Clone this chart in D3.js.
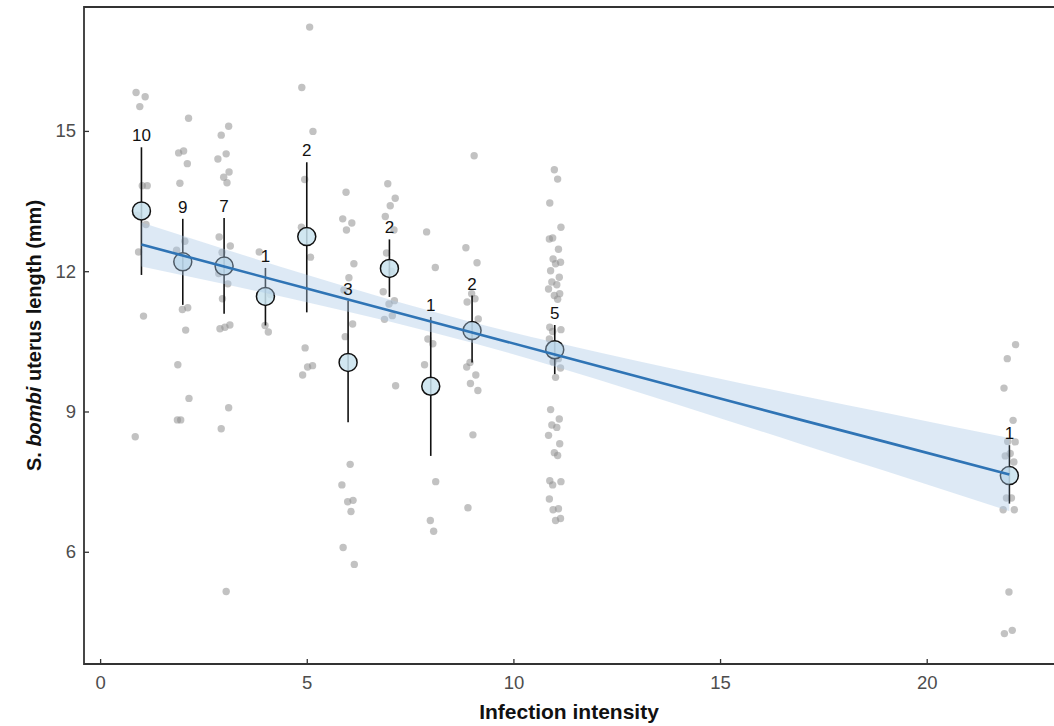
<!DOCTYPE html>
<html>
<head>
<meta charset="utf-8">
<script src="https://cdn.jsdelivr.net/npm/d3@7"></script>
<style>
  html, body { margin: 0; padding: 0; background: #fff; }
  svg { display: block; }
</style>
</head>
<body>
<svg id="chart" width="1054" height="726"></svg>
<script>
// ---------- data ----------
const intensity = [1, 2, 3, 4, 5, 6, 7, 8, 9, 11, 22];

// individual uterus lengths (grey jittered points), one array per intensity
const lengths = [
  [15.82, 15.73, 15.52, 13.83, 13.83, 13.2, 13.0, 12.41, 11.04, 8.46],
  [15.27, 14.57, 14.53, 14.3, 13.88, 12.64, 12.45, 11.22, 11.18, 10.74, 10.0, 9.28, 8.82, 8.82],
  [15.1, 14.91, 14.51, 14.4, 14.12, 14.01, 13.89, 12.73, 12.54, 12.4, 11.95, 11.73, 11.41, 10.85, 10.8, 10.77, 9.08, 8.63, 5.15],
  [12.41, 11.5, 10.84, 10.7],
  [17.22, 15.93, 14.99, 13.96, 12.94, 12.3, 10.36, 9.98, 9.95, 9.78],
  [13.69, 13.12, 13.03, 12.88, 12.16, 11.86, 11.6, 10.87, 10.6, 7.87, 7.43, 7.1, 7.07, 6.86, 6.09, 5.73],
  [13.87, 13.56, 13.4, 13.17, 12.88, 12.39, 12.0, 11.56, 11.37, 11.3, 11.05, 10.97, 9.55],
  [12.84, 12.08, 10.55, 10.45, 10.0, 7.5, 6.67, 6.44],
  [14.47, 12.5, 12.18, 11.52, 11.41, 11.34, 10.98, 10.05, 9.95, 9.78, 9.6, 9.45, 8.5, 6.94],
  [14.17, 13.97, 13.46, 12.94, 12.71, 12.69, 12.47, 12.26, 12.19, 12.16, 12.01, 11.87, 11.77, 11.71, 11.62, 11.52, 11.48, 11.4,
   10.8, 10.75, 10.71, 10.55, 10.13, 10.06, 9.93, 9.73, 9.04, 8.84, 8.71, 8.66, 8.49, 8.31, 8.12, 8.06, 7.52, 7.5, 7.43, 7.13, 6.92, 6.9, 6.71, 6.67],
  [10.43, 10.13, 9.5, 8.81, 8.36, 8.35, 8.1, 8.05, 7.92, 7.15, 7.15, 6.9, 6.9, 5.14, 4.32, 4.25]
];

// summary means with error bars and count labels
const meanLength = [13.29, 12.2, 12.11, 11.46, 12.74, 10.05, 12.06, 9.54, 10.73, 10.32, 7.63];
const barLow     = [11.92, 11.28, 11.09, 10.84, 11.12, 8.77, 11.45, 8.05, 10.05, 9.8, 7.03];
const barHigh    = [14.65, 13.12, 13.14, 12.07, 14.33, 11.37, 12.68, 11.02, 11.48, 10.85, 8.28];
const counts     = ["10", "9", "7", "1", "2", "3", "2", "1", "2", "5", "1"];

// fitted regression line with confidence band
const fitX    = [1, 3, 5, 7, 9, 11, 13, 15, 17, 19, 22];
const fitY    = [12.57, 12.10, 11.63, 11.16, 10.69, 10.22, 9.75, 9.28, 8.81, 8.35, 7.65];
const fitHalf = [0.47, 0.375, 0.292, 0.233, 0.219, 0.258, 0.331, 0.422, 0.52, 0.623, 0.781];

const xTicks = [0, 5, 10, 15, 20];
const yTicks = [6, 9, 12, 15];
const xTitle = "Infection intensity";

// ---------- layout ----------
const padL = 84, padR = 1054, padT = 7, padB = 664;
const svg = d3.select("#chart");

const x = d3.scaleLinear().domain([-0.39, 23.08]).range([padL, padR]);
const y = d3.scaleLinear().domain([3.60, 17.65]).range([padB, padT]);

// small fixed horizontal jitter pattern (visual offset only)
const jit = [-0.13, 0.09, -0.04, 0.14, 0.02, -0.1, 0.11, -0.07, 0.05, -0.15, 0.12, -0.01, 0.07, -0.12, 0.15, -0.05];

const pts = [];
intensity.forEach((xi, i) => {
  lengths[i].forEach((v, j) => pts.push({ x: xi + jit[(j + i * 3) % jit.length], y: v }));
});

// grey points
svg.append("g").selectAll("circle").data(pts).join("circle")
  .attr("cx", d => x(d.x)).attr("cy", d => y(d.y)).attr("r", 3.7)
  .attr("fill", "#8f8f8f").attr("fill-opacity", 0.55);

// error bars
const summ = intensity.map((xi, i) => ({ x: xi, m: meanLength[i], lo: barLow[i], hi: barHigh[i], n: counts[i] }));
svg.append("g").selectAll("line").data(summ).join("line")
  .attr("x1", d => x(d.x)).attr("x2", d => x(d.x))
  .attr("y1", d => y(d.lo)).attr("y2", d => y(d.hi))
  .attr("stroke", "#111").attr("stroke-width", 1.6);

// mean circles
svg.append("g").selectAll("circle").data(summ).join("circle")
  .attr("cx", d => x(d.x)).attr("cy", d => y(d.m)).attr("r", 9)
  .attr("fill", "#c9e3ee").attr("fill-opacity", 0.85)
  .attr("stroke", "#111").attr("stroke-width", 1.5);

// confidence band + line
const fit = fitX.map((fx, i) => ({ x: fx, y: fitY[i], lo: fitY[i] - fitHalf[i], hi: fitY[i] + fitHalf[i] }));
svg.append("path").datum(fit)
  .attr("d", d3.area().x(d => x(d.x)).y0(d => y(d.lo)).y1(d => y(d.hi)).curve(d3.curveMonotoneX))
  .attr("fill", "#a9c8e6").attr("fill-opacity", 0.4);
svg.append("path").datum(fit)
  .attr("d", d3.line().x(d => x(d.x)).y(d => y(d.y)))
  .attr("fill", "none").attr("stroke", "#2f74b5").attr("stroke-width", 2.6);

// count labels
svg.append("g").selectAll("text").data(summ).join("text")
  .attr("x", d => x(d.x)).attr("y", d => y(d.hi) - 6)
  .attr("text-anchor", "middle")
  .style("font-family", "'Liberation Sans', Arial, sans-serif")
  .style("font-size", "17px").attr("fill", "#111")
  .text(d => d.n);

// axes
const xAxis = svg.append("g").attr("transform", `translate(0,${padB})`)
  .call(d3.axisBottom(x).tickValues(xTicks).tickSizeInner(-5).tickSizeOuter(0).tickPadding(12));
const yAxis = svg.append("g").attr("transform", `translate(${padL},0)`)
  .call(d3.axisLeft(y).tickValues(yTicks).tickSizeInner(-5).tickSizeOuter(0).tickPadding(8));
[xAxis, yAxis].forEach(a => {
  a.select(".domain").remove();
  a.selectAll(".tick line").attr("stroke", "#333").attr("stroke-width", 1.3);
  a.selectAll(".tick text").attr("fill", "#4d4d4d")
    .style("font-family", "'Liberation Sans', Arial, sans-serif").style("font-size", "18.5px");
});

// panel border: left, bottom, top
svg.append("path")
  .attr("d", `M${padR},${padT}H${padL}V${padB}H${padR}`)
  .attr("fill", "none").attr("stroke", "#333").attr("stroke-width", 1.8);

// titles
svg.append("text").attr("x", (padL + padR) / 2).attr("y", 719)
  .attr("text-anchor", "middle")
  .style("font-family", "'Liberation Sans', Arial, sans-serif").style("font-size", "21px").style("font-weight", "bold")
  .attr("fill", "#111").text(xTitle);

const yt = svg.append("text")
  .attr("transform", `translate(41,${(padT + padB) / 2}) rotate(-90)`)
  .attr("text-anchor", "middle")
  .style("font-family", "'Liberation Sans', Arial, sans-serif").style("font-size", "20px").style("font-weight", "bold")
  .attr("fill", "#111");
yt.append("tspan").text("S. ");
yt.append("tspan").style("font-style", "italic").text("bombi");
yt.append("tspan").text(" uterus length (mm)");
</script>
</body>
</html>
